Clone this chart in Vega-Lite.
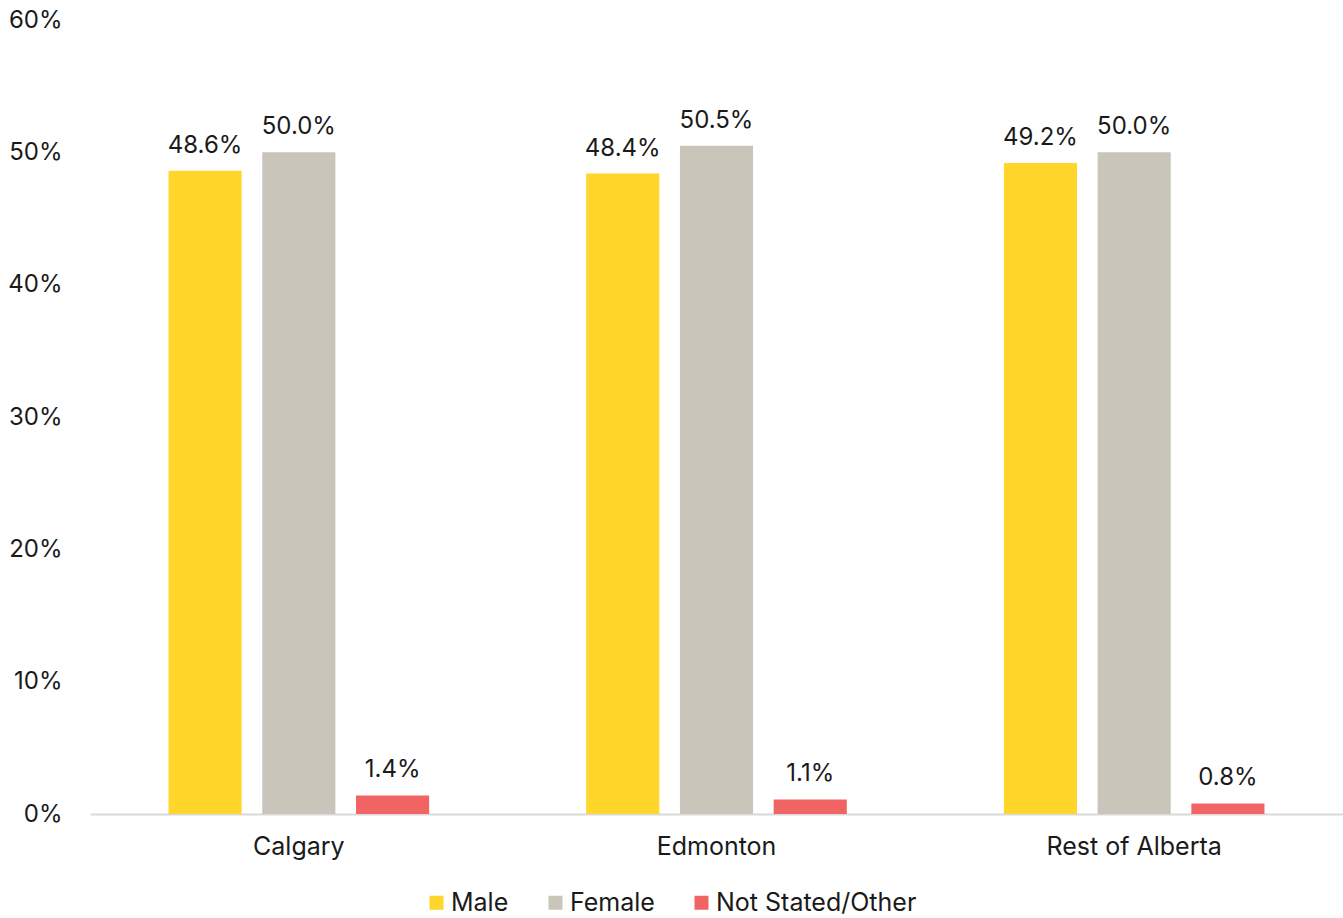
{
  "$schema": "https://vega.github.io/schema/vega-lite/v6.json",
  "width": 1253,
  "height": 794,
  "autosize": {"type": "none"},
  "padding": {"left": 90, "top": 20, "right": 0, "bottom": 104},
  "background": "white",
  "config": {
    "view": {"stroke": null},
    "font": "Inter",
    "text": {"font": "Inter"}
  },
  "data": {
    "values": [
      {"region": "Calgary", "gender": "Male", "share": 0.486},
      {"region": "Calgary", "gender": "Female", "share": 0.500},
      {"region": "Calgary", "gender": "Not Stated/Other", "share": 0.014},
      {"region": "Edmonton", "gender": "Male", "share": 0.484},
      {"region": "Edmonton", "gender": "Female", "share": 0.505},
      {"region": "Edmonton", "gender": "Not Stated/Other", "share": 0.011},
      {"region": "Rest of Alberta", "gender": "Male", "share": 0.492},
      {"region": "Rest of Alberta", "gender": "Female", "share": 0.500},
      {"region": "Rest of Alberta", "gender": "Not Stated/Other", "share": 0.008}
    ]
  },
  "encoding": {
    "x": {
      "field": "region",
      "type": "nominal",
      "sort": ["Calgary", "Edmonton", "Rest of Alberta"],
      "scale": {"paddingInner": 0.376, "paddingOuter": 0.188},
      "axis": {
        "title": null,
        "labelAngle": 0,
        "labelFontSize": 25,
        "labelColor": "#1a1a1a",
        "labelPadding": 20,
        "ticks": false,
        "domainColor": "#D9D9D9",
        "domainWidth": 2,
        "labelFont": "Inter"
      }
    },
    "xOffset": {
      "field": "gender",
      "type": "nominal",
      "sort": ["Male", "Female", "Not Stated/Other"],
      "scale": {"paddingInner": 0.22, "paddingOuter": 0}
    },
    "y": {
      "field": "share",
      "type": "quantitative",
      "scale": {"domain": [0, 0.6], "nice": false},
      "axis": {
        "title": null,
        "format": ".0%",
        "values": [0, 0.1, 0.2, 0.3, 0.4, 0.5, 0.6],
        "grid": false,
        "domain": false,
        "ticks": false,
        "labelFontSize": 24,
        "labelColor": "#1a1a1a",
        "labelPadding": 28,
        "labelFont": "Inter"
      }
    }
  },
  "layer": [
    {
      "mark": {"type": "bar"},
      "encoding": {
        "color": {
          "field": "gender",
          "type": "nominal",
          "sort": ["Male", "Female", "Not Stated/Other"],
          "scale": {
            "domain": ["Male", "Female", "Not Stated/Other"],
            "range": ["#FFD629", "#C9C5BA", "#F06464"]
          },
          "legend": {
            "title": null,
            "orient": "none",
            "legendX": 334,
            "legendY": 870,
            "direction": "horizontal",
            "symbolType": "square",
            "symbolSize": 196,
            "symbolStrokeWidth": 0,
            "labelFontSize": 25,
            "labelColor": "#1a1a1a",
            "labelFont": "Inter",
            "labelOffset": 2,
            "columnPadding": 34,
            "labelLimit": 400
          }
        }
      }
    },
    {
      "mark": {
        "type": "text",
        "baseline": "alphabetic",
        "dy": -18,
        "fontSize": 24,
        "color": "#1a1a1a",
        "font": "Inter"
      },
      "encoding": {
        "text": {"field": "share", "type": "quantitative", "format": ".1%"}
      }
    }
  ]
}
